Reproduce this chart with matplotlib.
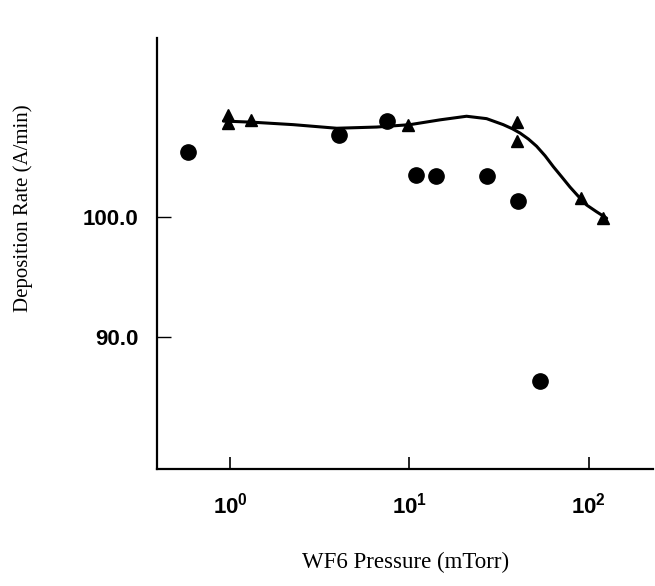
import matplotlib
matplotlib.use("Agg")
import matplotlib.pyplot as plt

# WF6 pressure (mTorr) and deposition rate (A/min), circle series
circle_p = [0.58, 4.05, 7.5, 10.9, 14.1, 27.2, 40.4, 53.3]
circle_r = [105.4, 106.8, 108.0, 103.5, 103.4, 103.4, 101.3, 86.3]

# triangle series
tri_p = [0.97, 0.97, 1.31, 9.77, 39.8, 39.8, 89.9, 119.0]
tri_r = [108.5, 107.8, 108.1, 107.7, 107.9, 106.3, 101.6, 99.9]

# smooth trend curve through the triangle series
curve_p = [0.92, 1.35, 2.25, 3.93, 6.57, 10.07, 14.8, 20.8, 26.9,
           33.3, 37.5, 41.3, 46.0, 51.1, 57.0, 63.3, 70.5, 78.4, 87.0, 97.1, 110.0, 125.5]
curve_r = [108.0, 107.9, 107.7, 107.4, 107.5, 107.7, 108.1, 108.4, 108.2,
           107.7, 107.35, 107.0, 106.5, 105.9, 105.1, 104.2, 103.35, 102.5, 101.75, 101.0, 100.45, 99.9]

ytick_vals = [90.0, 100.0]
ytick_labels = ["90.0", "100.0"]
xtick_vals = [1, 10, 100]
xtick_labels = [r"$\mathregular{10^0}$", r"$\mathregular{10^1}$", r"$\mathregular{10^2}$"]

plt.rcParams["mathtext.default"] = "regular"

fig = plt.figure(figsize=(6.55, 5.86), dpi=100)
ax = fig.add_axes([0.2397, 0.1997, 0.757, 0.735])

ax.plot(curve_p, curve_r, color="black", lw=2.2, solid_capstyle="round",
        solid_joinstyle="round", zorder=2)
ax.plot(tri_p, tri_r, linestyle="none", marker="^", ms=8, color="black", zorder=3)
ax.plot(circle_p, circle_r, linestyle="none", marker="o", ms=11, color="black", zorder=3)

ax.set_xscale("log")
ax.set_xlim(0.392, 227)
ax.set_ylim(79.0, 114.9)

for side in ("top", "right"):
    ax.spines[side].set_visible(False)
for side in ("left", "bottom"):
    ax.spines[side].set_linewidth(1.6)

ax.set_xticks(xtick_vals)
ax.set_xticklabels(xtick_labels)
ax.xaxis.set_minor_locator(matplotlib.ticker.NullLocator())
ax.set_yticks(ytick_vals)
ax.set_yticklabels(ytick_labels)

ax.tick_params(axis="x", direction="in", length=9, width=1.2, pad=17,
               labelsize=16)
ax.tick_params(axis="y", direction="in", length=10, width=1.0, pad=13.5,
               labelsize=16)
for lab in ax.get_xticklabels() + ax.get_yticklabels():
    lab.set_fontfamily("Liberation Sans")
    lab.set_fontweight("bold")

fig.text(0.619, 0.022, "WF6 Pressure (mTorr)", family="Liberation Serif",
         fontsize=16.5, ha="center", va="bottom")
fig.text(0.036, 0.645, "Deposition Rate (A/min)", family="Liberation Serif",
         fontsize=15, rotation=90, ha="center", va="center")

fig.savefig("out.png", dpi=100)
